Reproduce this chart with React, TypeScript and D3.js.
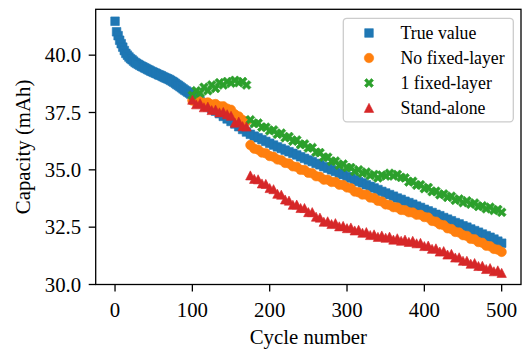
import React from "react";
import * as d3 from "d3";

// cycle numbers (x categories)
const trueCycles = [
    0, 2, 4, 6, 8, 10, 12, 14, 16, 18, 20, 22, 24, 26, 28, 30, 32, 34, 36, 38, 40, 42, 44, 46, 48,
    50, 52, 54, 56, 58, 60, 62, 64, 66, 68, 70, 72, 74, 76, 78, 80, 82, 84, 86, 88, 90, 92, 94, 96, 98,
    100, 105, 110, 115, 120, 125, 130, 135, 140, 145, 150, 155, 160, 165, 170, 175, 180, 185, 190, 195,
    200, 205, 210, 215, 220, 225, 230, 235, 240, 245, 250, 255, 260, 265, 270, 275, 280, 285, 290, 295,
    300, 305, 310, 315, 320, 325, 330, 335, 340, 345, 350, 355, 360, 365, 370, 375, 380, 385, 390, 395,
    400, 405, 410, 415, 420, 425, 430, 435, 440, 445, 450, 455, 460, 465, 470, 475, 480, 485, 490, 495, 500,
];
const earlyCycles = [100, 105, 110, 115, 120, 125, 130, 135, 140, 145, 150, 155, 160, 165, 170];
const lateCycles = [
    175, 180, 185, 190, 195, 200, 205, 210, 215, 220, 225, 230, 235, 240, 245, 250, 255, 260, 265, 270,
    275, 280, 285, 290, 295, 300, 305, 310, 315, 320, 325, 330, 335, 340, 345, 350, 355, 360, 365, 370,
    375, 380, 385, 390, 395, 400, 405, 410, 415, 420, 425, 430, 435, 440, 445, 450, 455, 460, 465, 470,
    475, 480, 485, 490, 495, 500,
];

// capacity values (mAh)
const trueValues = [
    41.48, 41.02, 40.85, 40.65, 40.5, 40.35, 40.2, 40.08, 40.0, 39.92, 39.85, 39.8, 39.74, 39.68, 39.64,
    39.6, 39.56, 39.52, 39.49, 39.45, 39.42, 39.38, 39.35, 39.31, 39.28, 39.25, 39.22, 39.19, 39.15, 39.13,
    39.1, 39.06, 39.03, 39.0, 38.97, 38.94, 38.9, 38.86, 38.82, 38.77, 38.72, 38.68, 38.63, 38.58, 38.53,
    38.48, 38.44, 38.39, 38.35, 38.3,
    38.25, 38.13, 38.01, 37.9, 37.78, 37.67, 37.56, 37.45, 37.33, 37.22, 37.11, 37.0, 36.88, 36.76, 36.65,
    36.55, 36.47, 36.4, 36.32, 36.24,
    36.16, 36.08, 36.0, 35.93, 35.86, 35.79, 35.72, 35.65, 35.57, 35.5, 35.43, 35.36, 35.28, 35.22, 35.14,
    35.07, 35.0, 34.93, 34.85, 34.79,
    34.71, 34.64, 34.57, 34.49, 34.43, 34.35, 34.28, 34.21, 34.14, 34.06, 33.99, 33.92, 33.85, 33.77, 33.71,
    33.63, 33.57, 33.5, 33.42, 33.36,
    33.28, 33.21, 33.14, 33.06, 33.0, 32.92, 32.85, 32.78, 32.7, 32.64, 32.56, 32.5, 32.42, 32.35, 32.28,
    32.2, 32.13, 32.06, 31.98, 31.89, 31.8,
];
const noFixedEarly = [38.02, 37.95, 37.99, 37.92, 37.94, 37.85, 37.87, 37.77, 37.77, 37.67, 37.62, 37.42, 37.33, 37.17, 37.12];
const noFixedLate = [
    36.08, 35.92, 35.88, 35.75, 35.72, 35.6, 35.57, 35.45, 35.42, 35.3,
    35.28, 35.15, 35.13, 35.0, 34.99, 34.87, 34.85, 34.72, 34.7, 34.57,
    34.57, 34.47, 34.47, 34.35, 34.34, 34.23, 34.2, 34.05, 34.02, 33.92,
    33.92, 33.79, 33.77, 33.65, 33.62, 33.49, 33.47, 33.37, 33.36, 33.25,
    33.24, 33.15, 33.14, 33.04, 33.04, 32.94, 32.92, 32.77, 32.74, 32.62,
    32.59, 32.45, 32.42, 32.29, 32.27, 32.15, 32.12, 31.99, 31.97, 31.85,
    31.82, 31.69, 31.67, 31.55, 31.52, 31.42,
];
const oneFixedEarly = [38.25, 38.45, 38.35, 38.6, 38.45, 38.7, 38.55, 38.8, 38.7, 38.85, 38.78, 38.9, 38.8, 38.85, 38.7];
const oneFixedLate = [
    37.18, 37.02, 37.04, 36.86, 36.86, 36.7, 36.74, 36.55, 36.6, 36.4,
    36.45, 36.25, 36.3, 36.1, 36.13, 35.95, 35.97, 35.77, 35.75, 35.55,
    35.55, 35.37, 35.38, 35.2, 35.25, 35.1, 35.1, 34.93, 35.0, 34.85,
    34.9, 34.75, 34.8, 34.65, 34.77, 34.73, 34.85, 34.73, 34.8, 34.67,
    34.65, 34.47, 34.5, 34.33, 34.35, 34.18, 34.23, 34.05, 34.07, 33.91,
    33.95, 33.8, 33.85, 33.67, 33.73, 33.57, 33.65, 33.5, 33.55, 33.4,
    33.43, 33.3, 33.37, 33.23, 33.27, 33.15,
];
const standAloneEarly = [38.05, 37.85, 37.9, 37.72, 37.75, 37.6, 37.62, 37.5, 37.52, 37.42, 37.35, 37.05, 37.1, 36.9, 36.88];
const standAloneLate = [
    34.75, 34.6, 34.58, 34.4, 34.38, 34.2, 34.15, 33.95, 33.91, 33.7,
    33.65, 33.47, 33.48, 33.33, 33.33, 33.15, 33.15, 32.95, 32.91, 32.73,
    32.75, 32.63, 32.67, 32.53, 32.55, 32.45, 32.48, 32.35, 32.38, 32.25,
    32.28, 32.15, 32.18, 32.07, 32.13, 32.03, 32.08, 31.95, 32.01, 31.9,
    31.95, 31.85, 31.9, 31.79, 31.81, 31.67, 31.69, 31.55, 31.57, 31.43,
    31.45, 31.3, 31.33, 31.17, 31.18, 31.03, 31.03, 30.9, 30.93, 30.8,
    30.81, 30.67, 30.71, 30.57, 30.61, 30.5,
];

const xTicks = [0, 100, 200, 300, 400, 500];
const yTicks = [30, 32.5, 35, 37.5, 40];
const labels = ["True value", "No fixed-layer", "1 fixed-layer", "Stand-alone"];
const colors = ["#1f77b4", "#ff7f0e", "#2ca02c", "#d62728"];
const markers = ["square", "circle", "x", "triangle"];

const FONT = "'Liberation Serif', 'Times New Roman', serif";

const width = 523;
const height = 352;
const plot = { left: 95.7, right: 521, top: 9.3, bottom: 284.5 };

// filled "X" marker: a plus sign turned by 45 degrees
const xPlusPoints = (() => {
    const w = 1.5;
    const L = 4.9;
    const pts = [
        [-w, -L], [w, -L], [w, -w], [L, -w], [L, w], [w, w],
        [w, L], [-w, L], [-w, w], [-L, w], [-L, -w], [-w, -w],
    ];
    const c = Math.SQRT1_2;
    return pts.map(([a, b]) => [(a - b) * c, (a + b) * c]);
})();

const markerPath = (kind: string) => {
    if (kind === "square") return "M-4.3,-4.3h8.6v8.6h-8.6z";
    if (kind === "circle") return d3.symbol(d3.symbolCircle, 70)() as string;
    if (kind === "triangle") return "M0,-4.7L4.7,4.4L-4.7,4.4Z";
    return "M" + xPlusPoints.map((p) => p.join(",")).join("L") + "Z";
};

export default function App() {
    const x = d3.scaleLinear([-25, 525], [plot.left, plot.right]);
    const y = d3.scaleLinear([30, 42], [plot.bottom, plot.top]);

    const series = [
        { cycles: trueCycles, values: trueValues },
        { cycles: [...earlyCycles, ...lateCycles], values: [...noFixedEarly, ...noFixedLate] },
        { cycles: [...earlyCycles, ...lateCycles], values: [...oneFixedEarly, ...oneFixedLate] },
        { cycles: [...earlyCycles, ...lateCycles], values: [...standAloneEarly, ...standAloneLate] },
    ];

    const fmt = d3.format(".1f");
    const tickLen = 7;

    return (
        <svg
            width={width}
            height={height}
            style={{ position: "absolute", left: 0, top: 0, background: "#fff" }}
            fontFamily={FONT}
        >
            {/* points */}
            <g>
                {series.map((s, i) => {
                    const d = markerPath(markers[i]);
                    return (
                        <g key={`s${i}`} fill={colors[i]} stroke={colors[i]} strokeWidth={0.6}>
                            {s.cycles.map((c, j) => (
                                <path key={j} d={d} transform={`translate(${x(c)},${y(s.values[j])})`} />
                            ))}
                        </g>
                    );
                })}
            </g>

            {/* frame */}
            <rect
                x={plot.left}
                y={plot.top}
                width={plot.right - plot.left}
                height={plot.bottom - plot.top}
                fill="none"
                stroke="#000"
                strokeWidth={1.3}
            />

            {/* x axis */}
            {xTicks.map((t) => (
                <g key={`xt${t}`} transform={`translate(${x(t)},${plot.bottom})`}>
                    <line y2={tickLen} stroke="#000" strokeWidth={1.3} />
                    <text y={32.5} textAnchor="middle" fontSize={20.8} fill="#000">
                        {t}
                    </text>
                </g>
            ))}
            <text
                x={(plot.left + plot.right) / 2}
                y={344}
                textAnchor="middle"
                fontSize={20.8}
                fill="#000"
            >
                Cycle number
            </text>

            {/* y axis */}
            {yTicks.map((t) => (
                <g key={`yt${t}`} transform={`translate(${plot.left},${y(t)})`}>
                    <line x2={-tickLen} stroke="#000" strokeWidth={1.3} />
                    <text x={-14.5} dy="0.34em" textAnchor="end" fontSize={20.8} fill="#000">
                        {fmt(t)}
                    </text>
                </g>
            ))}
            <text
                transform={`translate(29.5,${(plot.top + plot.bottom) / 2}) rotate(-90)`}
                textAnchor="middle"
                fontSize={20.8}
                fill="#000"
            >
                Capacity (mAh)
            </text>

            {/* legend */}
            <g>
                <rect
                    x={343.3}
                    y={18.3}
                    width={170}
                    height={103.5}
                    rx={3.5}
                    fill="#fff"
                    fillOpacity={0.8}
                    stroke="#cccccc"
                    strokeWidth={1.3}
                />
                {labels.map((l, i) => (
                    <g key={`lg${i}`} transform={`translate(0,${33 + i * 25})`}>
                        <path
                            d={markerPath(markers[i])}
                            transform="translate(369,0)"
                            fill={colors[i]}
                            stroke={colors[i]}
                            strokeWidth={0.6}
                        />
                        <text x={400.5} y={6} fontSize={17.8} fill="#000">
                            {l}
                        </text>
                    </g>
                ))}
            </g>
        </svg>
    );
}
